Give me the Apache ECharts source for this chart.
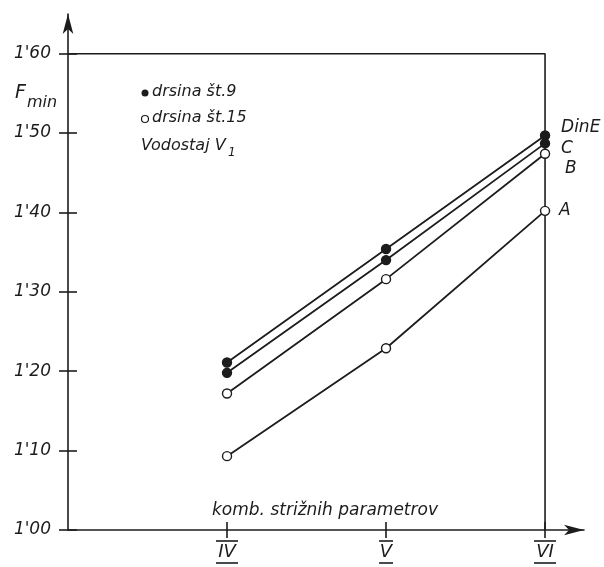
<!DOCTYPE html>
<html>
<head>
<meta charset="utf-8">
<script src="https://cdn.jsdelivr.net/npm/echarts@6/dist/echarts.min.js"></script>
<style>
  html, body { margin: 0; padding: 0; background: #fff; }
  #chart { width: 604px; height: 567px; }
</style>
</head>
<body>
<div id="chart"></div>
<script>
// kombinacije strižnih parametrov (x os)
var categories = ['IV', 'V', 'VI'];
var catPos = [1, 2, 3];
// F_min ticks
var yTicks = [1.0, 1.1, 1.2, 1.3, 1.4, 1.5, 1.6];

// drsina št.9 (polne pike)
var serD = [1.211, 1.354, 1.497];
var serC = [1.198, 1.340, 1.487];
// drsina št.15 (prazne pike)
var serB = [1.172, 1.316, 1.474];
var serA = [1.093, 1.229, 1.402];

var ink = '#1c1c1c';
var font = 'DejaVu Sans';
var xMax = 3.245, yMax = 1.65;

function pts(vals) {
    return vals.map(function (v, i) { return [catPos[i], v]; });
}

function lineSeries(name, vals, filled, off) {
    return {
        name: name,
        type: 'line',
        data: pts(vals),
        symbol: 'circle',
        symbolSize: 9,
        itemStyle: {
            color: filled ? ink : '#fff',
            borderColor: ink,
            borderWidth: 1.4
        },
        lineStyle: { color: ink, width: 1.8 },
        endLabel: {
            show: true,
            formatter: name,
            offset: off,
            color: ink,
            fontFamily: font,
            fontStyle: 'italic',
            fontSize: 17
        },
        z: 5
    };
}

var yTop = yTicks[yTicks.length - 1];
var xLast = catPos[catPos.length - 1];

var myChart = echarts.init(document.getElementById('chart'));

// second pair of axes only carries the inner half of the crossing ticks
var innerX = {
    type: 'value', min: 0, max: xMax, position: 'bottom', offset: -8,
    axisLine: { show: true, onZero: false, lineStyle: { color: ink, opacity: 0 } },
    axisTick: { show: true, length: 8, customValues: catPos, lineStyle: { color: ink, width: 1.6 } },
    axisLabel: { show: false },
    splitLine: { show: false }
};
var innerY = {
    type: 'value', min: 1.0, max: yMax, position: 'left', offset: -9,
    axisLine: { show: true, onZero: false, lineStyle: { color: ink, opacity: 0 } },
    axisTick: { show: true, length: 9, customValues: yTicks, lineStyle: { color: ink, width: 1.6 } },
    axisLabel: { show: false },
    splitLine: { show: false }
};

var option = {
    backgroundColor: '#fff',
    animation: false,
    grid: { left: 68, right: 20, top: 14, bottom: 37 },
    xAxis: [{
        type: 'value',
        min: 0,
        max: xMax,
        axisLine: {
            show: true,
            onZero: false,
            symbol: ['none', 'arrow'],
            symbolSize: [8, 20],
            lineStyle: { color: ink, width: 1.6 }
        },
        axisTick: {
            show: true, length: 8, customValues: catPos,
            lineStyle: { color: ink, width: 1.6 }
        },
        axisLabel: {
            show: true,
            customValues: catPos,
            margin: 10,
            formatter: function (v) {
                var t = categories[catPos.indexOf(Math.round(v))] || '';
                var w = t.length > 1 ? 22 : 14;
                return '{b' + w + '| }\n{t|' + t + '}\n{b' + w + '| }';
            },
            rich: {
                t: { fontFamily: font, fontStyle: 'italic', fontSize: 18, color: ink, lineHeight: 20 },
                b22: { width: 22, height: 1.6, lineHeight: 2, fontSize: 2, backgroundColor: ink },
                b14: { width: 14, height: 1.6, lineHeight: 2, fontSize: 2, backgroundColor: ink }
            }
        },
        splitLine: { show: false }
    }, innerX],
    yAxis: [{
        type: 'value',
        min: 1.0,
        max: yMax,
        axisLine: {
            show: true,
            onZero: false,
            symbol: ['none', 'arrow'],
            symbolSize: [8, 20],
            lineStyle: { color: ink, width: 1.6 }
        },
        axisTick: {
            show: true, length: 9, customValues: yTicks,
            lineStyle: { color: ink, width: 1.6 }
        },
        axisLabel: {
            show: true,
            customValues: yTicks,
            margin: 17,
            color: ink,
            fontFamily: font,
            fontStyle: 'italic',
            fontSize: 17,
            formatter: function (v) {
                return v.toFixed(2).replace('.', "'");
            }
        },
        splitLine: { show: false }
    }, innerY],
    series: [
        {
            name: 'frame',
            type: 'line',
            data: [[0, yTop], [xLast, yTop], [xLast, yTicks[0]]],
            symbol: 'none',
            silent: true,
            lineStyle: { color: ink, width: 1.6 },
            z: 1
        },
        {
            name: 'inner',
            type: 'line',
            xAxisIndex: 1,
            yAxisIndex: 1,
            data: [],
            silent: true
        },
        lineSeries('DinE', serD, true, [8, -8]),
        lineSeries('C', serC, true, [8, 5]),
        lineSeries('B', serB, false, [12, 15]),
        lineSeries('A', serA, false, [6, 0])
    ],
    graphic: [
        {
            type: 'text', left: 15, top: 84,
            style: { text: 'F', fill: ink, font: 'italic 19px "DejaVu Sans"' }
        },
        {
            type: 'text', left: 27, top: 95,
            style: { text: 'min', fill: ink, font: 'italic 16px "DejaVu Sans"' }
        },
        {
            type: 'circle', shape: { cx: 145, cy: 93, r: 3.5 },
            style: { fill: ink }
        },
        {
            type: 'text', left: 152, top: 84,
            style: { text: 'drsina št.9', fill: ink, font: 'italic 16px "DejaVu Sans"' }
        },
        {
            type: 'circle', shape: { cx: 145, cy: 119, r: 3.5 },
            style: { fill: '#fff', stroke: ink, lineWidth: 1.2 }
        },
        {
            type: 'text', left: 152, top: 110,
            style: { text: 'drsina št.15', fill: ink, font: 'italic 16px "DejaVu Sans"' }
        },
        {
            type: 'text', left: 141, top: 138,
            style: { text: 'Vodostaj V', fill: ink, font: 'italic 16px "DejaVu Sans"' }
        },
        {
            type: 'text', left: 228, top: 147,
            style: { text: '1', fill: ink, font: 'italic 12px "DejaVu Sans"' }
        },
        {
            type: 'text', left: 212, top: 502,
            style: { text: 'komb. strižnih parametrov', fill: ink, font: 'italic 17px "DejaVu Sans"' }
        }
    ]
};

myChart.setOption(option);
</script>
</body>
</html>
